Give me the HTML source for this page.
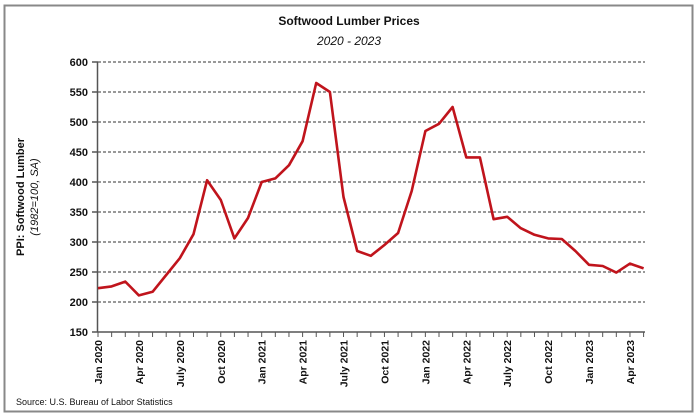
<!DOCTYPE html>
<html><head><style>body{margin:0;background:#fff}svg{display:block}text{font-family:"Liberation Sans",sans-serif;fill:#111}</style></head><body>
<svg width="698" height="416" viewBox="0 0 698 416" xmlns="http://www.w3.org/2000/svg">
<rect x="4.5" y="5.5" width="688" height="406" fill="#fff" stroke="#888" stroke-width="2"/>
<text x="349" y="25" text-anchor="middle" font-size="12" font-weight="bold">Softwood Lumber Prices</text>
<text x="349" y="45" text-anchor="middle" font-size="12" font-style="italic">2020 - 2023</text>
<g stroke="#333" stroke-width="1" stroke-dasharray="3,2">
<line x1="98" x2="645" y1="62" y2="62"/><line x1="98" x2="645" y1="92" y2="92"/><line x1="98" x2="645" y1="122" y2="122"/><line x1="98" x2="645" y1="152" y2="152"/><line x1="98" x2="645" y1="182" y2="182"/><line x1="98" x2="645" y1="212" y2="212"/><line x1="98" x2="645" y1="242" y2="242"/><line x1="98" x2="645" y1="272" y2="272"/><line x1="98" x2="645" y1="302" y2="302"/>
</g>
<g font-size="11" font-weight="bold" text-anchor="end">
<text x="88" y="66">600</text><text x="88" y="96">550</text><text x="88" y="126">500</text><text x="88" y="156">450</text><text x="88" y="186">400</text><text x="88" y="216">350</text><text x="88" y="246">300</text><text x="88" y="276">250</text><text x="88" y="306">200</text><text x="88" y="336">150</text>
</g>
<g stroke="#555" stroke-width="1.5"><line x1="97.5" y1="62" x2="97.5" y2="332"/><line x1="92" y1="332" x2="645" y2="332"/>
<line x1="92" x2="98" y1="62" y2="62"/><line x1="92" x2="98" y1="92" y2="92"/><line x1="92" x2="98" y1="122" y2="122"/><line x1="92" x2="98" y1="152" y2="152"/><line x1="92" x2="98" y1="182" y2="182"/><line x1="92" x2="98" y1="212" y2="212"/><line x1="92" x2="98" y1="242" y2="242"/><line x1="92" x2="98" y1="272" y2="272"/><line x1="92" x2="98" y1="302" y2="302"/>
</g>
<g id="ticks" stroke="#555" stroke-width="1"></g>
<g id="labels" font-size="10.5" font-weight="bold"></g>
<text transform="translate(24,197) rotate(-90)" text-anchor="middle" font-size="11" font-weight="bold">PPI: Softwood Lumber</text>
<text transform="translate(38,197) rotate(-90)" text-anchor="middle" font-size="11" font-style="italic">(1982=100, SA)</text>
<text x="16" y="405" font-size="9">Source: U.S. Bureau of Labor Statistics</text>
<polyline id="line" fill="none" stroke="#c0141c" stroke-width="2.6" stroke-linejoin="round"/>
</svg>
<script>
var d=[223,226,234,211,217,245,273,313,403,370,306,340,400,406,428,468,565,550,375,285,277,295,315,385,485,497,525,441,441,338,342,323,312,306,305,285,262,260,249,264,256];
var X=i=>98+i*13.64,Y=v=>332-(v-150)*0.6;
document.getElementById('line').setAttribute('points',d.map((v,i)=>X(i).toFixed(1)+','+Y(v).toFixed(1)).join(' '));
var t='',l='',m=['Jan','Apr','July','Oct'];
for(var i=0;i<=40;i++){t+='<line x1="'+X(i)+'" x2="'+X(i)+'" y1="332" y2="337"/>';
if(i%3==0){var s=m[(i/3)%4]+' '+(2020+Math.floor(i/12));l+='<text transform="translate('+(X(i)+4)+',340) rotate(-90)" text-anchor="end">'+s+'</text>';}}
document.getElementById('ticks').innerHTML=t;document.getElementById('labels').innerHTML=l;
</script>
</body></html>
